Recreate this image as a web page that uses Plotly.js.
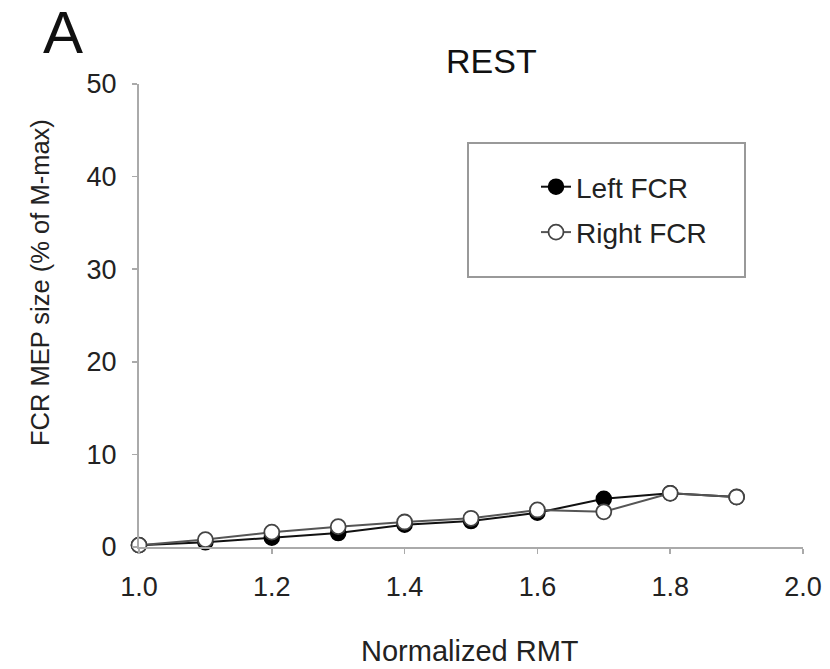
<!DOCTYPE html>
<html>
<head>
<meta charset="utf-8">
<script src="https://cdn.plot.ly/plotly-3.0.1.min.js"></script>
<style>html,body{margin:0;padding:0;background:#fff;}#chart{width:830px;height:669px;}</style>
</head>
<body>
<div id="chart"></div>
<script>
// Normalized RMT levels
const rmt = [1.0, 1.1, 1.2, 1.3, 1.4, 1.5, 1.6, 1.7, 1.8, 1.9];
// FCR MEP size (% of M-max)
const leftFCR  = [0.2, 0.5, 1.0, 1.5, 2.4, 2.8, 3.7, 5.2, 5.8, 5.4];
const rightFCR = [0.2, 0.8, 1.6, 2.2, 2.7, 3.1, 4.0, 3.8, 5.8, 5.4];
const seriesNames = ['Left FCR', 'Right FCR'];
const xTicks = [1.0, 1.2, 1.4, 1.6, 1.8, 2.0];
const xTickText = ['1.0', '1.2', '1.4', '1.6', '1.8', '2.0'];
const yTicks = [0, 10, 20, 30, 40, 50];

const FONT = 'Liberation Sans, Arial, Helvetica, sans-serif';
const L = 139, R = 27, T = 84, B = 122, W = 830, H = 669;
const pw = W - L - R, ph = H - T - B;
const px = v => (v - L) / pw;
const py = v => (H - B - v) / ph;

const traces = [
  {
    x: rmt, y: leftFCR, name: seriesNames[0], type: 'scatter', mode: 'lines+markers',
    cliponaxis: false, legendgroup: 'a',
    line: {color: '#111', width: 2},
    marker: {symbol: 'circle', size: 15, color: '#000', line: {color: '#000', width: 1.5}}
  },
  {
    x: rmt, y: rightFCR, name: seriesNames[1], type: 'scatter', mode: 'lines+markers',
    cliponaxis: false, legendgroup: 'b',
    line: {color: '#555', width: 2},
    marker: {symbol: 'circle', size: 15, color: '#fff', line: {color: '#444', width: 1.8}}
  }
];

const layout = {
  width: W, height: H,
  margin: {l: L, r: R, t: T, b: B},
  paper_bgcolor: '#fff', plot_bgcolor: '#fff',
  font: {family: FONT, color: '#222'},
  showlegend: true,
  legend: {
    x: px(536), y: py(162), xanchor: 'left', yanchor: 'top',
    bgcolor: 'rgba(0,0,0,0)', borderwidth: 0,
    font: {family: FONT, size: 28, color: '#222'},
    traceorder: 'grouped', tracegroupgap: 6
  },
  xaxis: {
    range: [1.0, 2.0], tickvals: xTicks, ticktext: xTickText,
    showline: true, linecolor: '#aaa', linewidth: 2,
    ticks: 'outside', ticklen: 5, tickcolor: '#aaa', tickwidth: 1.5,
    showgrid: false, zeroline: false,
    tickfont: {family: FONT, size: 27, color: '#222'},
    ticklabelstandoff: 10
  },
  yaxis: {
    range: [0, 50], tickvals: yTicks,
    showline: true, linecolor: '#aaa', linewidth: 2,
    ticks: 'outside', ticklen: 5, tickcolor: '#aaa', tickwidth: 1.5,
    showgrid: false, zeroline: false,
    tickfont: {family: FONT, size: 27, color: '#222'},
    ticklabelstandoff: 10
  },
  shapes: [
    {type: 'rect', xref: 'paper', yref: 'paper',
     x0: px(468), x1: px(745), y0: py(277), y1: py(143),
     line: {color: '#999', width: 2}, fillcolor: 'rgba(0,0,0,0)'}
  ],
  annotations: [
    {text: 'REST', xref: 'paper', yref: 'paper', x: px(492), y: py(61),
     xanchor: 'center', yanchor: 'middle', showarrow: false,
     font: {family: FONT, size: 34, color: '#111'}},
    {text: 'A', xref: 'paper', yref: 'paper', x: px(63), y: py(33),
     xanchor: 'center', yanchor: 'middle', showarrow: false,
     font: {family: FONT, size: 60, color: '#111'}},
    {text: 'FCR MEP size (% of M-max)', xref: 'paper', yref: 'paper', x: px(40), y: py(283),
     xanchor: 'center', yanchor: 'middle', textangle: -90, showarrow: false,
     font: {family: FONT, size: 25.5, color: '#222'}},
    {text: 'Normalized RMT', xref: 'paper', yref: 'paper', x: px(470), y: py(651),
     xanchor: 'center', yanchor: 'middle', showarrow: false,
     font: {family: FONT, size: 29, color: '#222'}}
  ]
};

Plotly.newPlot('chart', traces, layout, {displayModeBar: false, staticPlot: true});
</script>
</body>
</html>
